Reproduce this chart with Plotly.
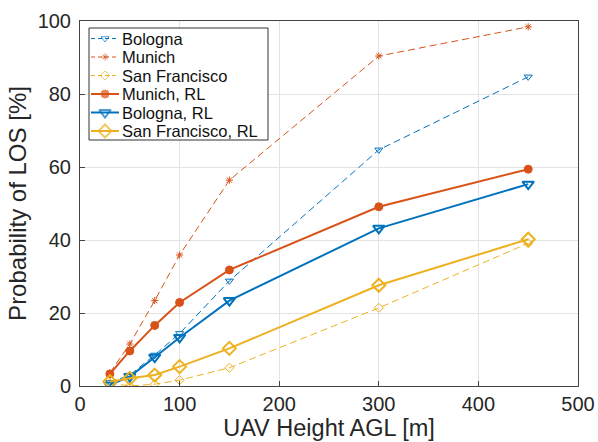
import plotly.graph_objects as go

heights = [30, 50, 75, 100, 150, 300, 450]

bologna = [1.0, 3.0, 8.5, 14.4, 28.8, 64.7, 84.7]
munich = [3.6, 11.5, 23.4, 35.9, 56.4, 90.4, 98.4]
san_francisco = [0.8, 0.0, 0.5, 1.6, 5.0, 21.4, 39.1]
munich_rl = [3.3, 9.6, 16.6, 22.9, 31.8, 49.1, 59.4]
bologna_rl = [0.3, 2.6, 7.9, 13.3, 23.4, 43.2, 55.3]
san_francisco_rl = [1.2, 2.1, 3.0, 5.3, 10.3, 27.6, 40.2]

series_names = ["Bologna", "Munich", "San Francisco",
                "Munich, RL", "Bologna, RL", "San Francisco, RL"]

BLUE = "#0072BD"
ORANGE = "#D95319"
YELLOW = "#EDB120"
DASH = "7px,4px"

styles = [
    dict(color=BLUE, dash=DASH, width=1, symbol="triangle-down-open", size=7, mline=1),
    dict(color=ORANGE, dash=DASH, width=1, symbol="asterisk-open", size=6, mline=1),
    dict(color=YELLOW, dash=DASH, width=1, symbol="diamond-open", size=7, mline=1),
    dict(color=ORANGE, dash="solid", width=2, symbol="circle", size=8, mline=1),
    dict(color=BLUE, dash="solid", width=2, symbol="triangle-down-open", size=10, mline=2),
    dict(color=YELLOW, dash="solid", width=2, symbol="diamond-open", size=10, mline=2),
]
values = [bologna, munich, san_francisco, munich_rl, bologna_rl, san_francisco_rl]

fig = go.Figure()
for name, y, s in zip(series_names, values, styles):
    fig.add_trace(go.Scatter(
        x=heights, y=y, name=name, mode="lines+markers", showlegend=False,
        line=dict(color=s["color"], dash=s["dash"], width=s["width"]),
        marker=dict(symbol=s["symbol"], size=s["size"], color=s["color"],
                    line=dict(color=s["color"], width=s["mline"])),
    ))

# ---- hand-built legend (compact, MATLAB-like) on a pixel-unit overlay axis ----
font = "Liberation Sans, Arial, sans-serif"
box_l, box_r, box_t, box_b = 89, 268, 28, 140
row0, row_step = 38.5, 18.5
fig.add_trace(go.Scatter(
    x=[box_l, box_r, box_r, box_l, box_l], y=[box_t, box_t, box_b, box_b, box_t],
    xaxis="x2", yaxis="y2", mode="lines", fill="toself", fillcolor="white",
    line=dict(color="#333", width=1), showlegend=False, hoverinfo="skip",
))
annotations = []
for i, (name, s) in enumerate(zip(series_names, styles)):
    ry = row0 + i * row_step
    fig.add_trace(go.Scatter(
        x=[91, 105, 119], y=[ry, ry, ry], xaxis="x2", yaxis="y2",
        mode="lines+markers", showlegend=False, hoverinfo="skip",
        line=dict(color=s["color"], dash="4px,3px" if s["dash"] != "solid" else "solid",
                  width=s["width"]),
        marker=dict(symbol=s["symbol"], size=[0, s["size"], 0], color=s["color"],
                    line=dict(color=s["color"], width=s["mline"])),
    ))
    annotations.append(dict(
        x=121, y=ry, xref="x2", yref="y2", text=name, showarrow=False,
        xanchor="left", yanchor="middle", borderpad=0,
        font=dict(family=font, size=16.5, color="#111"),
    ))

axis_common = dict(
    showline=True, linecolor="#444", linewidth=1, mirror=True,
    showgrid=True, gridcolor="#e3e3e3", gridwidth=1,
    ticks="inside", ticklen=5, tickcolor="#444",
    zeroline=False, automargin=False,
    tickfont=dict(family=font, size=20, color="#262626"),
)

fig.update_layout(
    width=598, height=442,
    margin=dict(l=80, r=20, t=21, b=56),
    paper_bgcolor="white", plot_bgcolor="white",
    font=dict(family=font, color="#262626"),
    showlegend=False,
    annotations=annotations,
    xaxis=dict(range=[0, 500], dtick=100, ticklabelstandoff=0,
               title=dict(text="UAV Height AGL [m]", font=dict(size=23.5), standoff=0),
               **axis_common),
    yaxis=dict(range=[0, 100], dtick=20, ticklabelstandoff=4,
               title=dict(text="Probability of LOS [%]", font=dict(size=24), standoff=4),
               **axis_common),
    xaxis2=dict(range=[80, 578], overlaying="x", visible=False, fixedrange=True),
    yaxis2=dict(range=[386, 21], overlaying="y", visible=False, fixedrange=True),
)

fig.write_html("out.html")
